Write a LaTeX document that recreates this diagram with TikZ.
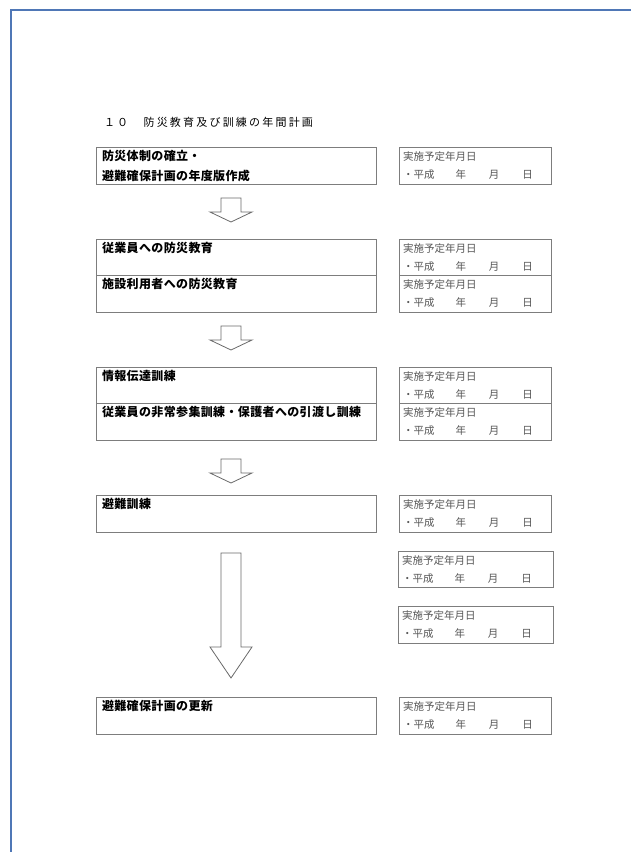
\documentclass[tikz,border=0pt]{standalone}
\usepackage{fontspec}
\newfontfamily\jp{Noto Sans CJK JP}
\newfontfamily\jptitle[LetterSpace=20]{Noto Sans CJK JP}
\newfontfamily\jpstage[LetterSpace=3]{Noto Sans CJK JP}
\usetikzlibrary{positioning}
\definecolor{frameblue}{RGB}{79,119,182}
\definecolor{boxgray}{RGB}{125,125,125}
\definecolor{textgray}{RGB}{85,85,85}
\definecolor{arrowgray}{RGB}{105,105,105}

\begin{document}
\begin{tikzpicture}[
  x=1pt, y=-1pt,
  every node/.style={outer sep=0pt},
  frameline/.style={draw=frameblue, line width=2pt},
  heading/.style={anchor=west, inner sep=0pt, font=\jptitle\fontsize{11}{13}\selectfont},
  stage/.style={draw=boxgray, line width=0.8pt, anchor=north west, minimum width=280pt, inner sep=0pt},
  stagetext/.style={anchor=north west, align=left, inner xsep=6pt, inner ysep=3pt, font=\jpstage\bfseries\fontsize{12}{20}\selectfont},
  datebox/.style={draw=boxgray, line width=0.8pt, anchor=north west, minimum width=152pt, inner sep=0pt},
  datetext/.style={anchor=north west, align=left, inner xsep=4pt, inner ysep=4.5pt, text=textgray, font=\jp\fontsize{10.5}{18}\selectfont},
  blockarrow/.style={draw=arrowgray, line width=0.8pt, fill=white, line join=miter},
  node distance=0pt]

  \useasboundingbox (0,0) rectangle (631,852);
  \draw[frameline] (631,10) -- (11,10) -- (11,852);

  \node[heading] (title) at (104,122) {１０　防災教育及び訓練の年間計画};

  % left column: the steps, right column: the planned dates
  \node[stage, minimum height=37pt,
    label={[stagetext]north west:{防災体制の確立・\\避難確保計画の年度版作成}}] (plan) at (96,147) {};
  \node[datebox, minimum height=37pt,
    label={[datetext]north west:{実施予定年月日\\・平成\hspace{21pt}年\hspace{23pt}月\hspace{23pt}日}}] (plan-date) at (399,147) {};

  \node[stage, minimum height=36.5pt,
    label={[stagetext]north west:{従業員への防災教育}}] (staff-edu) at (96,239) {};
  \node[stage, minimum height=36.5pt, below=of staff-edu,
    label={[stagetext]north west:{施設利用者への防災教育}}] (user-edu) {};
  \node[datebox, minimum height=36.5pt,
    label={[datetext]north west:{実施予定年月日\\・平成\hspace{21pt}年\hspace{23pt}月\hspace{23pt}日}}] (staff-edu-date) at (399,239) {};
  \node[datebox, minimum height=36.5pt, below=of staff-edu-date,
    label={[datetext]north west:{実施予定年月日\\・平成\hspace{21pt}年\hspace{23pt}月\hspace{23pt}日}}] (user-edu-date) {};

  \node[stage, minimum height=36.5pt,
    label={[stagetext]north west:{情報伝達訓練}}] (info-drill) at (96,367) {};
  \node[stage, minimum height=36.5pt, below=of info-drill,
    label={[stagetext]north west:{従業員の非常参集訓練・保護者への引渡し訓練}}] (callup-drill) {};
  \node[datebox, minimum height=36.5pt,
    label={[datetext]north west:{実施予定年月日\\・平成\hspace{21pt}年\hspace{23pt}月\hspace{23pt}日}}] (info-drill-date) at (399,367) {};
  \node[datebox, minimum height=36.5pt, below=of info-drill-date,
    label={[datetext]north west:{実施予定年月日\\・平成\hspace{21pt}年\hspace{23pt}月\hspace{23pt}日}}] (callup-drill-date) {};

  \node[stage, minimum height=37pt,
    label={[stagetext]north west:{避難訓練}}] (evac-drill) at (96,495) {};
  \node[datebox, minimum height=37pt,
    label={[datetext]north west:{実施予定年月日\\・平成\hspace{21pt}年\hspace{23pt}月\hspace{23pt}日}}] (evac-drill-date) at (399,495) {};
  \node[datebox, minimum width=155pt, minimum height=36pt,
    label={[datetext]north west:{実施予定年月日\\・平成\hspace{21pt}年\hspace{23pt}月\hspace{23pt}日}}] (extra-date1) at (398,551) {};
  \node[datebox, minimum width=155pt, minimum height=37pt,
    label={[datetext]north west:{実施予定年月日\\・平成\hspace{21pt}年\hspace{23pt}月\hspace{23pt}日}}] (extra-date2) at (398,606) {};

  \node[stage, minimum height=37pt,
    label={[stagetext]north west:{避難確保計画の更新}}] (update) at (96,697) {};
  \node[datebox, minimum height=37pt,
    label={[datetext]north west:{実施予定年月日\\・平成\hspace{21pt}年\hspace{23pt}月\hspace{23pt}日}}] (update-date) at (399,697) {};

  % hollow arrows between the steps
  \draw[blockarrow] (221,198) -- (221,212) -- (210,212) -- (231,222) -- (252,212) -- (241,212) -- (241,198) -- cycle;
  \draw[blockarrow] (221,326) -- (221,340) -- (210,340) -- (231,350) -- (252,340) -- (241,340) -- (241,326) -- cycle;
  \draw[blockarrow] (221,459) -- (221,473) -- (210,473) -- (231,483) -- (252,473) -- (241,473) -- (241,459) -- cycle;
  \draw[blockarrow] (221,553) -- (221,647) -- (210,647) -- (231,678) -- (252,647) -- (241,647) -- (241,553) -- cycle;

\end{tikzpicture}
\end{document}
